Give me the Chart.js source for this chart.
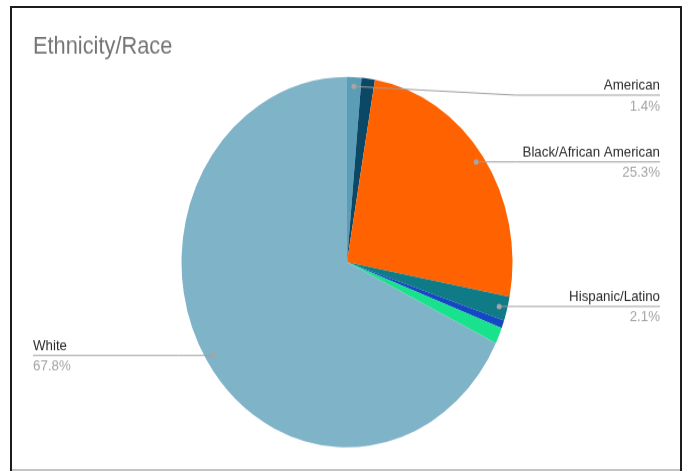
<!DOCTYPE html>
<html>
<head>
<meta charset="utf-8">
<script src="https://cdn.jsdelivr.net/npm/chart.js@4.4.1/dist/chart.umd.min.js"></script>
<style>
  html, body { margin: 0; padding: 0; background: #fff; width: 686px; height: 471px; overflow: hidden; }
  #stage { position: absolute; left: 0; top: 0; width: 686px; height: 421px; transform: scaleY(1.1188); transform-origin: 0 0; }
  #frame { position: absolute; left: 10px; top: 6px; width: 668px; height: 480px; border: 2px solid #1c1c1c; pointer-events: none; }
  #bottomLine { position: absolute; left: 12px; top: 469px; width: 668px; height: 2px; background: #c4c4c4; }
</style>
</head>
<body>
<div id="stage"><canvas id="chart" width="686" height="421"></canvas></div>
<div id="frame"></div>
<div id="bottomLine"></div>
<script>
// slices, clockwise from 12 o'clock
const categories = ['American', 'Asian', 'Black/African American', 'Hispanic/Latino', 'Native Hawaiian/Pacific Islander', 'Two or More Races', 'White'];
const values = [1.4, 1.3, 25.3, 2.1, 0.7, 1.4, 67.8];
const sliceColors = ['#5b9cb6', '#0b4866', '#ff6200', '#0e7b87', '#1547c4', '#19e28c', '#7fb3c8'];
// only these slices get a callout label in the original
const showLabel = [true, false, true, true, false, false, true];
const chartTitle = 'Ethnicity/Race';

const calloutPlugin = {
  id: 'callouts',
  afterDraw(chart) {
    const ctx = chart.ctx;
    const meta = chart.getDatasetMeta(0);

    // title
    ctx.save();
    ctx.font = '21.8px "Liberation Sans", Arial, sans-serif';
    ctx.fillStyle = '#757575';
    ctx.textBaseline = 'alphabetic';
    ctx.textAlign = 'left';
    ctx.fillText(chartTitle, 33, 48.3);
    ctx.restore();

    meta.data.forEach((arc, i) => {
      if (!showLabel[i]) return;
      const { x, y, startAngle, endAngle, outerRadius } = arc.getProps(['x', 'y', 'startAngle', 'endAngle', 'outerRadius'], true);
      const mid = (startAngle + endAngle) / 2;
      const dx = x + Math.cos(mid) * outerRadius * 0.95;
      const dy = y + Math.sin(mid) * outerRadius * 0.95;
      const right = Math.cos(mid) > 0;
      const lineY = Math.max(dy, 85);
      const bendX = right ? x + outerRadius + 3 : x - outerRadius - 3;
      const endX = right ? 660 : 33;

      ctx.save();
      ctx.strokeStyle = '#9e9e9e';
      ctx.lineWidth = 1;
      ctx.beginPath();
      ctx.moveTo(dx, dy);
      ctx.lineTo(bendX, lineY);
      ctx.lineTo(endX, lineY);
      ctx.stroke();

      ctx.fillStyle = '#a6a6a6';
      ctx.beginPath();
      ctx.arc(dx, dy, 2.5, 0, Math.PI * 2);
      ctx.fill();

      ctx.textAlign = right ? 'right' : 'left';
      ctx.textBaseline = 'alphabetic';
      ctx.font = '13.3px "Liberation Sans", Arial, sans-serif';
      ctx.fillStyle = '#2a2a2a';
      ctx.fillText(categories[i], endX, lineY - 5);
      ctx.fillStyle = '#a3a3a3';
      ctx.fillText(values[i].toFixed(1) + '%', endX, lineY + 13.5);
      ctx.restore();
    });
  }
};

new Chart(document.getElementById('chart'), {
  type: 'pie',
  data: {
    labels: categories,
    datasets: [{
      data: values,
      backgroundColor: sliceColors,
      borderWidth: 0
    }]
  },
  options: {
    responsive: false,
    animation: false,
    devicePixelRatio: 1,
    layout: { padding: { left: 47, right: 39, top: 68.8, bottom: 21.2 } },
    plugins: {
      legend: { display: false },
      tooltip: { enabled: false },
      title: { display: false }
    }
  },
  plugins: [calloutPlugin]
});
</script>
</body>
</html>
